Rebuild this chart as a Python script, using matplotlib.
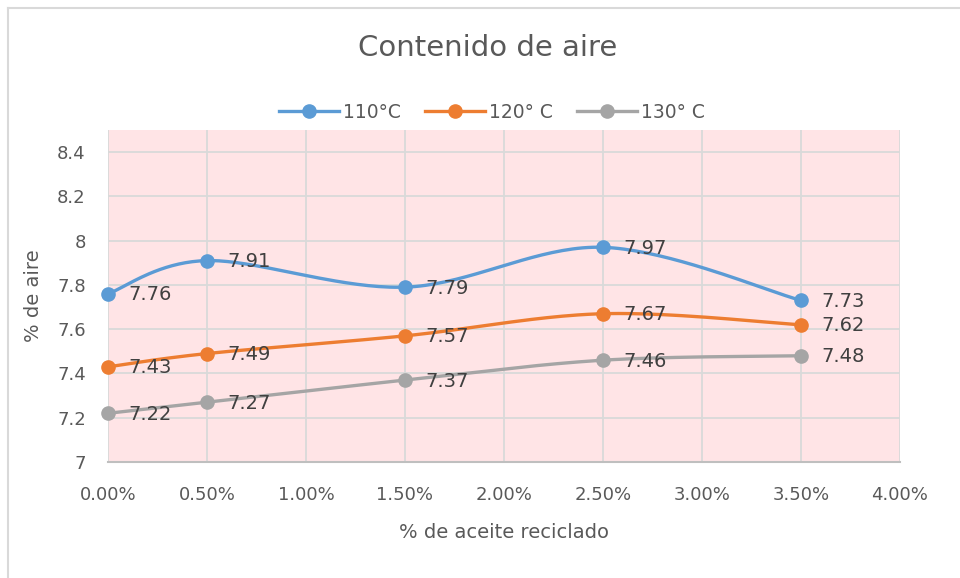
import numpy as np
import matplotlib
matplotlib.use("Agg")
import matplotlib.pyplot as plt
from matplotlib.ticker import FuncFormatter, MultipleLocator
from matplotlib.lines import Line2D

# data
aceite = [0.0, 0.005, 0.015, 0.025, 0.035]
t110 = [7.76, 7.91, 7.79, 7.97, 7.73]
t120 = [7.43, 7.49, 7.57, 7.67, 7.62]
t130 = [7.22, 7.27, 7.37, 7.46, 7.48]
series_names = ["110°C", "120° C", "130° C"]
colors = ["#5B9BD5", "#ED7D31", "#A5A5A5"]

txt = "#595959"


def smooth(x, y, n=40):
    # excel-like smoothed line (catmull-rom as bezier)
    x = np.asarray(x, float)
    y = np.asarray(y, float)
    px = np.concatenate([[x[0]], x, [x[-1]]])
    py = np.concatenate([[y[0]], y, [y[-1]]])
    xs, ys = [], []
    t = np.linspace(0, 1, n)
    for i in range(1, len(px) - 2):
        p0 = np.array([px[i], py[i]])
        p3 = np.array([px[i + 1], py[i + 1]])
        c1 = p0 + (p3 - np.array([px[i - 1], py[i - 1]])) / 6
        c2 = p3 - (np.array([px[i + 2], py[i + 2]]) - p0) / 6
        b = ((1 - t) ** 3)[:, None] * p0 + (3 * (1 - t) ** 2 * t)[:, None] * c1 \
            + (3 * (1 - t) * t ** 2)[:, None] * c2 + (t ** 3)[:, None] * p3
        xs.extend(b[:, 0])
        ys.extend(b[:, 1])
    return xs, ys


fig = plt.figure(figsize=(9.6, 5.78), dpi=100)
ax = fig.add_axes([108 / 960, 1 - 462 / 578, 792 / 960, 332 / 578])
ax.set_facecolor("#FFE4E6")

handles = []
for ys, c, name in zip([t110, t120, t130], colors, series_names):
    sx, sy = smooth(aceite, ys)
    ax.plot(sx, sy, color=c, lw=2.4, zorder=3, solid_capstyle="round")
    ax.plot(aceite, ys, "o", color=c, ms=9.5, zorder=4, clip_on=False)
    for xv, yv in zip(aceite, ys):
        ax.annotate(f"{yv:.2f}", (xv, yv), xytext=(20, -1), textcoords="offset pixels",
                    ha="left", va="center", fontsize=14, color="#404040", zorder=5,
                    annotation_clip=False)
    handles.append(Line2D([], [], color=c, lw=2.4, marker="o", ms=9.5))

ax.set_xlim(0, 0.04)
ax.set_ylim(7, 8.5)
ax.xaxis.set_major_locator(MultipleLocator(0.005))
ax.set_yticks([7, 7.2, 7.4, 7.6, 7.8, 8, 8.2, 8.4])
ax.xaxis.set_major_formatter(FuncFormatter(lambda v, p: f"{v * 100:.2f}%"))
ax.yaxis.set_major_formatter(FuncFormatter(lambda v, p: f"{v:g}"))
ax.grid(True, color="#D9D9D9", lw=1.3, zorder=1)
ax.set_axisbelow(True)
for s in ["top", "right", "left"]:
    ax.spines[s].set_visible(False)
ax.spines["bottom"].set_color("#BFBFBF")
ax.spines["bottom"].set_linewidth(1.5)
ax.tick_params(length=0, labelsize=13, colors=txt)
ax.tick_params(axis="x", pad=17)
ax.tick_params(axis="y", pad=16)

ax.set_xlabel("% de aceite reciclado", fontsize=14, color=txt, labelpad=14)
ax.set_ylabel("% de aire", fontsize=14, color=txt, labelpad=10)

fig.text(488 / 960, 1 - 48 / 578, "Contenido de aire", ha="center", va="center",
         fontsize=21, color=txt)
fig.legend(handles, series_names, loc="center", bbox_to_anchor=(492 / 960, 1 - 112 / 578),
           ncol=3, frameon=False, fontsize=13.5, handlelength=3.2, columnspacing=1.3,
           handletextpad=0.2, labelcolor=txt)

# chart border
fig.add_artist(Line2D([8 / 960, 8 / 960], [0, 1 - 8 / 578], color="#D9D9D9", lw=1.5,
                      transform=fig.transFigure))
fig.add_artist(Line2D([8 / 960, 1], [1 - 8 / 578, 1 - 8 / 578], color="#D9D9D9", lw=1.5,
                      transform=fig.transFigure))

fig.savefig("out.png", dpi=100)
